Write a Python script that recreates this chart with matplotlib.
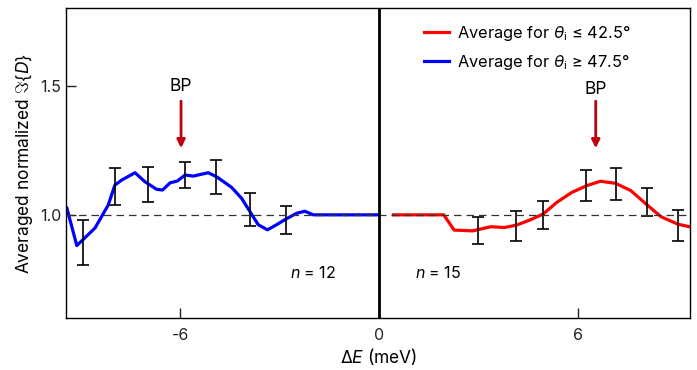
import numpy as np
import matplotlib
matplotlib.use('Agg')
from matplotlib import pyplot as plt

plt.rcParams['font.family'] = ['Inter', 'DejaVu Sans']
plt.rcParams['mathtext.fontset'] = 'custom'
plt.rcParams['mathtext.rm'] = 'Inter'
plt.rcParams['mathtext.it'] = 'Inter:italic'
plt.rcParams['mathtext.bf'] = 'Inter:bold'

# blue curve: theta_i >= 47.5
blue_x = [-9.43, -9.13, -8.58, -8.18, -7.98, -7.77, -7.37, -7.07, -6.72, -6.54, -6.31, -6.09,
          -5.86, -5.61, -5.16, -4.90, -4.45, -4.15, -3.90, -3.65, -3.37, -3.09, -2.82, -2.49,
          -2.24, -1.98, -1.5, -1.0, -0.5, 0.0]
blue_y = [1.026, 0.881, 0.949, 1.038, 1.115, 1.135, 1.163, 1.128, 1.099, 1.096, 1.124, 1.131,
          1.154, 1.150, 1.163, 1.147, 1.106, 1.064, 1.013, 0.962, 0.942, 0.962, 0.983, 1.006,
          1.014, 1.0, 1.0, 1.0, 1.0, 1.0]
blue_err_x = [-8.95, -7.98, -6.97, -5.86, -4.92, -3.90, -2.82]
blue_err_y = [0.894, 1.109, 1.117, 1.154, 1.146, 1.019, 0.981]
blue_err = [0.087, 0.071, 0.069, 0.051, 0.066, 0.064, 0.054]

# red curve: theta_i <= 42.5
red_x = [0.44, 1.0, 1.5, 1.96, 2.27, 2.83, 3.38, 3.79, 4.15, 4.56, 4.96, 5.37, 5.83, 6.28,
         6.69, 7.15, 7.61, 8.07, 8.52, 9.03, 9.45]
red_y = [1.0, 1.0, 1.0, 1.0, 0.941, 0.938, 0.954, 0.951, 0.960, 0.980, 1.003, 1.048, 1.087,
         1.113, 1.130, 1.122, 1.094, 1.042, 0.993, 0.964, 0.952]
red_err_x = [2.98, 4.15, 4.96, 6.25, 7.15, 8.09, 9.03]
red_err_y = [0.939, 0.958, 1.000, 1.112, 1.120, 1.049, 0.960]
red_err = [0.051, 0.058, 0.055, 0.060, 0.061, 0.054, 0.060]

bp_x = [-5.98, 6.55]
bp_text_y = [1.496, 1.485]

fig, ax = plt.subplots(figsize=(6.97, 3.70), dpi=100)
fig.subplots_adjust(left=0.095, right=0.99, top=0.978, bottom=0.14)

ax.plot(red_x, red_y, color='#ff0000', lw=2.3, label=r'Average for $\theta_\mathrm{i}$ ≤ 42.5°')
ax.plot(blue_x, blue_y, color='#0000ff', lw=2.3, label=r'Average for $\theta_\mathrm{i}$ ≥ 47.5°')
ax.errorbar(blue_err_x, blue_err_y, yerr=blue_err, fmt='none', ecolor='black',
            elinewidth=1.2, capsize=4, capthick=1.2, zorder=3)
ax.errorbar(red_err_x, red_err_y, yerr=red_err, fmt='none', ecolor='black',
            elinewidth=1.2, capsize=4, capthick=1.2, zorder=3)

ax.axhline(1.0, color='#333333', lw=0.9, ls=(0, (6, 4)), zorder=4)
ax.axvline(0, color='black', lw=2, zorder=5)

for x, ty in zip(bp_x, bp_text_y):
    ax.annotate('', xy=(x, 1.258), xytext=(x, 1.44),
                arrowprops=dict(arrowstyle='-|>', color='#c0000f', lw=2,
                                mutation_scale=12, shrinkA=0, shrinkB=0))
    ax.text(x, ty, 'BP', ha='center', va='center', fontsize=12.5)

ax.text(-2.69, 0.773, '$n$ = 12', ha='left', va='center', fontsize=11.5)
ax.text(1.09, 0.773, '$n$ = 15', ha='left', va='center', fontsize=11.5)

ax.set_xlim(-9.45, 9.4)
ax.set_ylim(0.6, 1.8)
ax.set_xticks([-6, 0, 6])
ax.set_xticklabels(['-6', '0', '6'])
ax.set_yticks([1.0, 1.5])
ax.tick_params(direction='in', length=7, width=1, labelsize=11.5, colors='#222222')
ax.tick_params(axis='x', pad=7)
ax.set_xlabel(r'$\Delta E$ (meV)', fontsize=12.5, labelpad=2)
ax.set_ylabel(r'Averaged normalized $\Im\{D\}$', fontsize=12.5)
for s in ax.spines.values():
    s.set_linewidth(1)

ax.legend(loc='upper left', bbox_to_anchor=(0.55, 1.0), frameon=False, fontsize=11.8,
          handlelength=1.5, handletextpad=0.5, labelspacing=0.55)

plt.savefig('out.png', dpi=100)
